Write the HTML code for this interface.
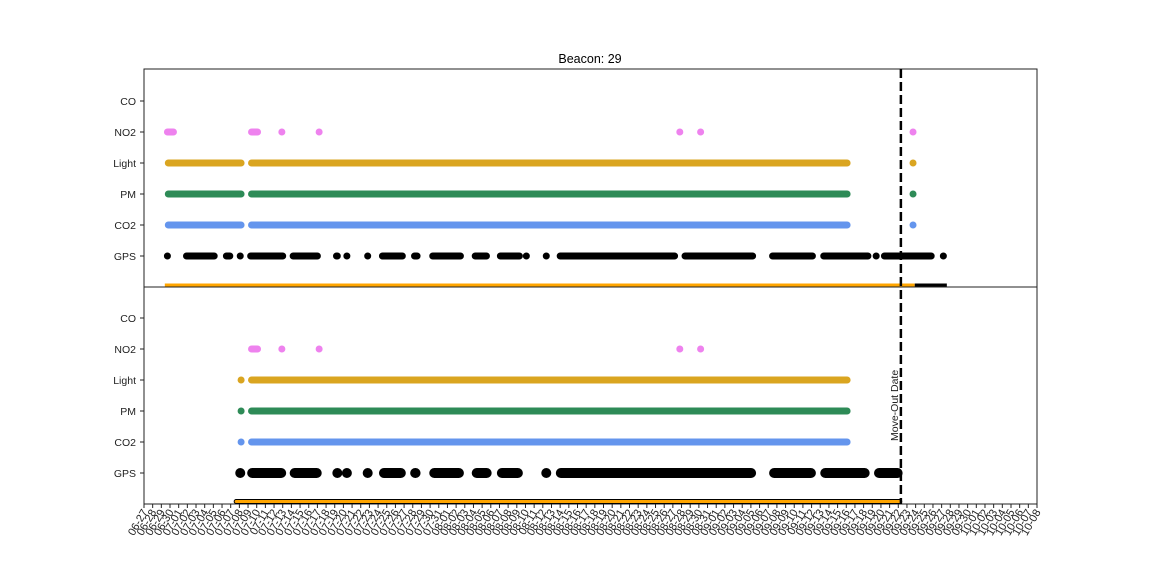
<!DOCTYPE html>
<html><head><meta charset="utf-8"><style>
html,body{margin:0;padding:0;background:#fff;}
svg text{font-family:"Liberation Sans",sans-serif;}
</style></head><body>
<svg id="chart" width="1152" height="576" viewBox="0 0 1152 576">
<text x="590" y="63" font-size="12.5" text-anchor="middle">Beacon: 29</text>
<g id="plot"></g>
</svg>
<script>
const rowLabels = ["GPS","CO2","PM","Light","NO2","CO"];
const rowColors = {"GPS":"#000","CO2":"#6495ed","PM":"#2e8b57","Light":"#daa520","NO2":"#ee82ee"};
const startDate = [6, 27];
const tickCount = 104;
const moveOutDay = 87.3;
// top panel segments [start day, end day]
const topNO2 = [[2.3,3.8],[12,13.5],[15.9,15.9],[20.2,20.2],[61.8,61.8],[64.2,64.2],[88.7,88.7]];
const topLight = [[2.4,11.6],[12,81.5],[88.7,88.7]];
const topPM = [[2.4,11.6],[12,81.5],[88.7,88.7]];
const topCO2 = [[2.4,11.6],[12,81.5],[88.7,88.7]];
const topGPS = [[2.7,2.7],[4.5,8.5],[9.1,10.3],[11.1,11.1],[11.9,16.4],[16.8,20.4],[21.8,22.7],[23.4,23.4],[25.8,25.8],[27.1,30.2],[30.8,31.9],[32.9,36.9],[37.8,39.9],[40.7,43.7],[44.1,44.1],[46.4,46.4],[47.6,61.6],[62.0,70.6],[72.1,77.5],[78.0,83.9],[84.2,84.7],[85.0,91.2],[91.8,92.6]];
const topBarOrange = [2.4, 88.9];
const topBarBlack = [88.9, 92.6];
// bottom panel
const botNO2 = [[12,13.5],[15.9,15.9],[20.2,20.2],[61.8,61.8],[64.2,64.2]];
const botLight = [[11.0,11.4],[12,81.5]];
const botPM = [[11.0,11.4],[12,81.5]];
const botCO2 = [[11.0,11.4],[12,81.5]];
const botGPS = [[11.1,11.1],[11.9,16.4],[16.8,20.5],[21.8,22.8],[23.4,23.4],[25.8,25.8],[27.1,30.2],[30.7,31.9],[32.9,36.9],[37.8,40.1],[40.7,43.7],[46.4,46.4],[47.5,70.6],[72.1,77.5],[78.0,83.7],[84.2,87.5]];
const botBarOrange = [10.4, 87.4];

const NS="http://www.w3.org/2000/svg";
const plot=document.getElementById('plot');
const X0=144,X1=1037,DAYMAX=103;
const xs=d=>X0+d*(X1-X0)/DAYMAX;
function mk(tag,attrs,parent){const e=document.createElementNS(NS,tag);for(const k in attrs)e.setAttribute(k,attrs[k]);(parent||plot).appendChild(e);return e;}
const panels=[{top:69,bot:287,data:{NO2:topNO2,Light:topLight,PM:topPM,CO2:topCO2,GPS:topGPS},gpsW:7,bar:topBarOrange,black:topBarBlack,barH:3,outline:false},
{top:287,bot:504,data:{NO2:botNO2,Light:botLight,PM:botPM,CO2:botCO2,GPS:botGPS},gpsW:10,bar:botBarOrange,black:null,barH:4,outline:true}];
panels.forEach((p,pi)=>{
  const rowY=i=>p.bot-31*(i+1);
  const frame=mk('rect',{x:X0,y:p.top,width:X1-X0,height:p.bot-p.top,fill:'none',stroke:'#222','stroke-width':1});
  
  
  rowLabels.forEach((lab,i)=>{
    const y=rowY(i);
    mk('line',{x1:X0-4,x2:X0,y1:y,y2:y,stroke:'#222'});
    const t=mk('text',{x:X0-8,y:y+4,'font-size':10.5,'text-anchor':'end',fill:'#222'});
    t.textContent=lab;
    
    
    const segs=p.data[lab];
    if(!segs)return;
    const w=lab==='GPS'?p.gpsW:7;
    const r=w/2;
    segs.forEach(s=>{
      let a=xs(s[0]),b=xs(s[1]);
      if(b-a>w){a+=r;b-=r;} else if(b-a>0){const c=(a+b)/2;a=c-0.01;b=c+0.01;}
      const l=mk('line',{x1:a,x2:Math.max(b,a+0.01),y1:y,y2:y,stroke:rowColors[lab],'stroke-width':w,'stroke-linecap':'round'});
      
      
    });
  });
  const ob=mk('rect',{x:xs(p.bar[0]),y:p.bot-p.barH-0.5,width:xs(p.bar[1])-xs(p.bar[0]),height:p.barH,fill:'#ffa500',stroke:p.outline?'#000':'none','stroke-width':1,rx:p.outline?2:0});
  
  
  if(p.black){
    const bb=mk('rect',{x:xs(p.black[0]),y:p.bot-p.barH-0.5,width:xs(p.black[1])-xs(p.black[0]),height:p.barH,fill:'#000'});
    
    
  }
});
// x ticks
const ml=[31,28,31,30,31,30,31,31,30,31,30,31];
let m=startDate[0],dd=startDate[1];
for(let i=0;i<tickCount;i++){
  const x=xs(i);
  mk('line',{x1:x,x2:x,y1:504,y2:508,stroke:'#222'});
  const lab=String(m).padStart(2,'0')+'-'+String(dd).padStart(2,'0');
  const t=mk('text',{x:x+4,y:512,'font-size':11,'text-anchor':'end',transform:`rotate(-60 ${x+4} 512)`,fill:'#222'});
  t.textContent=lab;
  
  
  dd++; if(dd>ml[m-1]){dd=1;m++;}
}
// move-out line
const mx=xs(moveOutDay);
const ml2=mk('line',{x1:mx,x2:mx,y1:69,y2:504,stroke:'#000','stroke-width':2.5,'stroke-dasharray':'9,4'});


const mt=mk('text',{x:mx-3,y:441,'font-size':10.5,transform:`rotate(-90 ${mx-3} 441)`,fill:'#222'});
mt.textContent='Move-Out Date';


</script>
</body></html>
